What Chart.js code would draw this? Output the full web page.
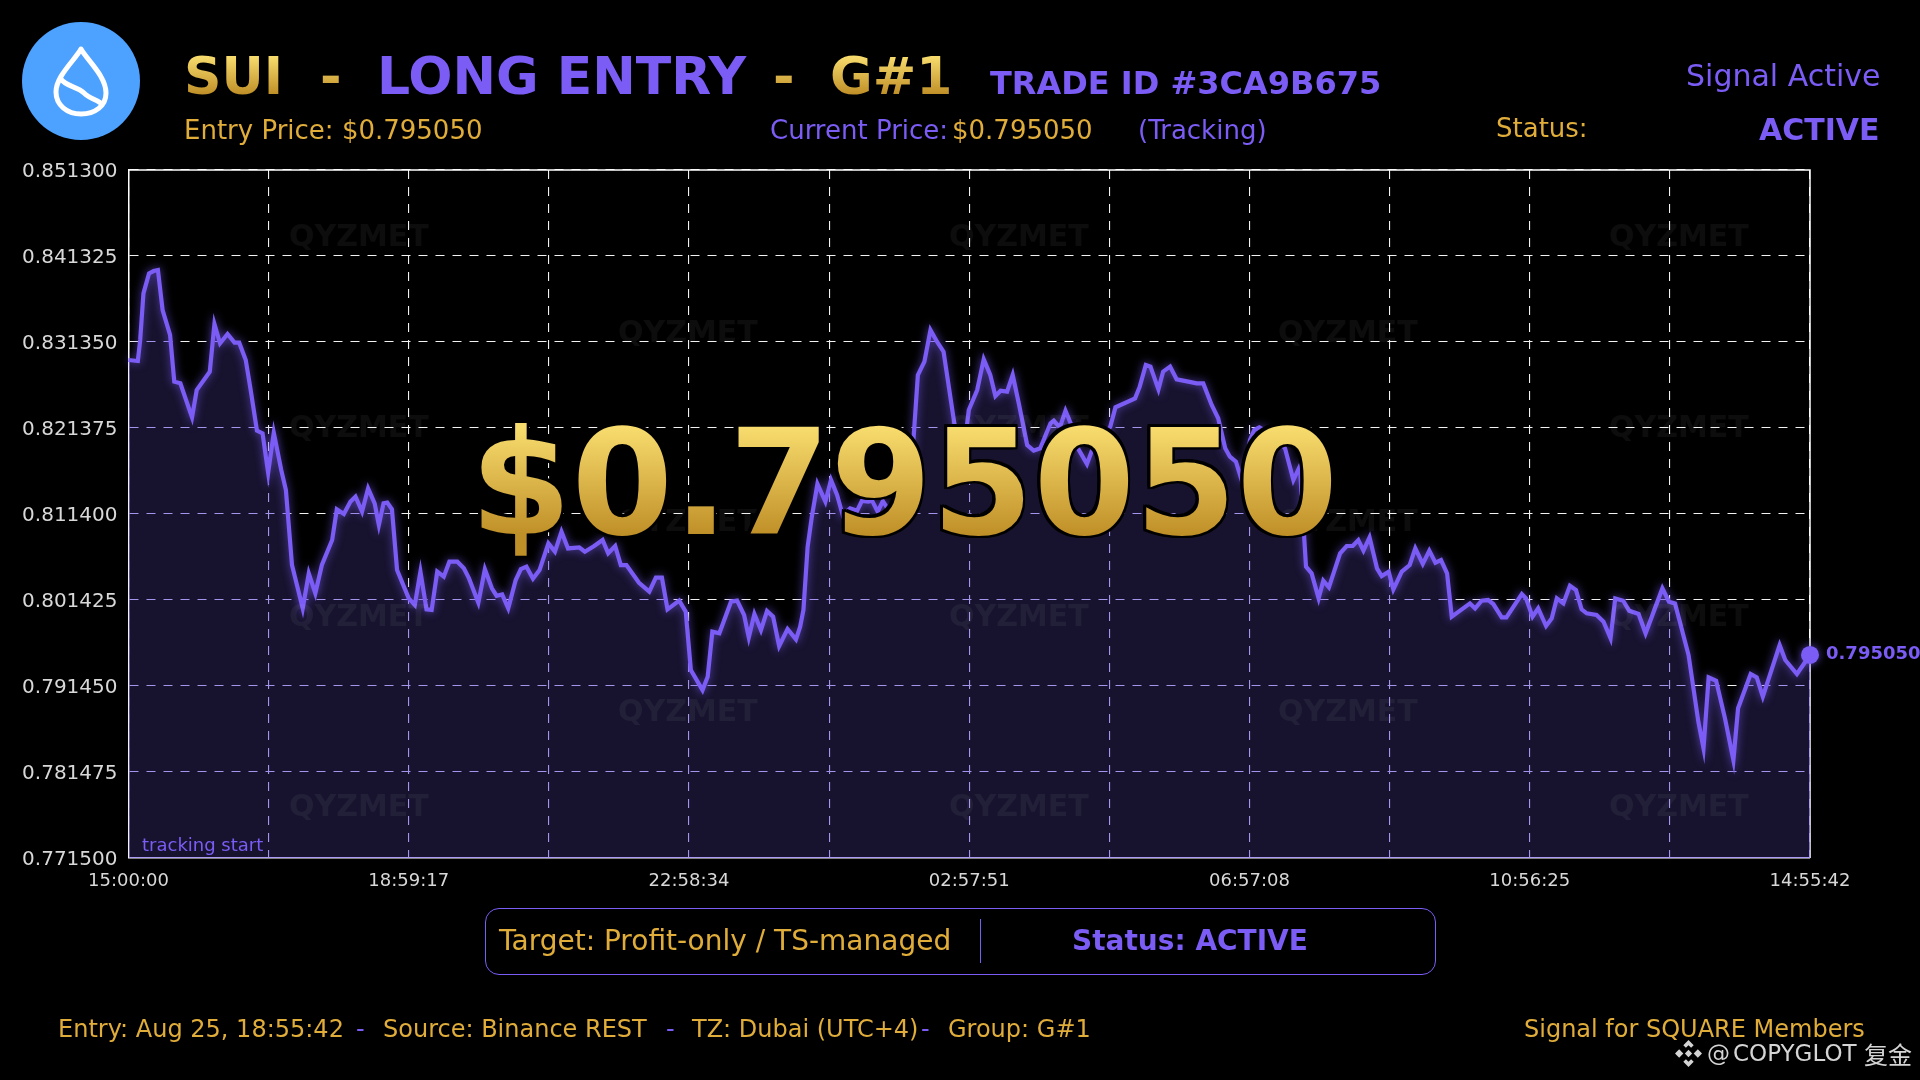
<!DOCTYPE html>
<html><head><meta charset="utf-8"><title>SUI Long Entry</title>
<script src="https://cdn.jsdelivr.net/npm/chart.js@4"></script>
<style>
html,body{margin:0;padding:0;background:#000;width:1920px;height:1080px;overflow:hidden}
#wrap{position:absolute;left:0;top:0;width:1920px;height:1080px}
canvas{position:absolute;left:0;top:0}
.t{position:absolute;white-space:pre;font-family:"DejaVu Sans",sans-serif;line-height:normal}
.b{font-weight:700}
.gold-grad{background:linear-gradient(180deg,#f8dc6e 17%,#c09028 80%);-webkit-background-clip:text;background-clip:text;color:transparent}
#box{position:absolute;left:485px;top:908px;width:949px;height:65px;border:1.5px solid #7b5cf5;border-radius:14px}
#sep{position:absolute;left:980px;top:919px;width:1px;height:44px;background:#7b5cf5}
</style></head><body><div id="wrap"><canvas id="c" width="1920" height="1080"></canvas></div>
<script>
const sampleIndex = [0,2,2.5,3.2,4.4,5.4,6.3,7.3,8.9,9.8,11.1,13.6,14.6,17.4,18.4,19.6,21.2,22.7,23.7,25.1,26.1,27.5,28.7,29.9,31.1,32.7,33.7,35,37.3,38.6,40,41.4,43.6,44.6,46.1,47.5,48.6,50,51.3,52.7,53.6,54.6,55.4,56.4,57.5,60,61.3,62.5,63.8,64.9,66.1,67.5,68.7,70.4,71.8,72.9,74.9,76.3,77.8,78.8,80,81.3,82.9,84,85.2,86.6,88,89.9,91.3,92.7,94.1,96.5,97.7,99.7,101.5,102.7,104.2,105.4,106.6,109.3,111.5,112.9,114.2,115.4,117.9,119.3,120.4,122.9,124,125,126.5,129,130.3,131.8,132.8,134,135.4,136.7,138,139.3,141.1,142.9,143.8,144.5,145.4,146.3,147.5,149.2,150.4,151.7,152.9,154.5,156,157,158.4,159.2,160.4,161.5,162.5,165.2,167,168.1,169,170.4,171.7,173.1,174.5,176.8,178.1,179.2,179.9,181.7,183.1,184.5,185.6,186.7,188.1,189.3,190.6,192.4,193.8,195.2,197.4,198.1,199.4,200.6,201.7,203.4,205.2,206.3,208.1,210.2,211.3,215.5,216.5,217.8,218.8,220.5,221.5,223,224.4,226.9,228.7,230.1,231.9,233.3,234.8,235.8,237.1,238.2,239,240.1,241,242.1,245.1,247.6,249.4,250.8,251.2,251.7,252.1,253.3,254.8,255.8,257,259.4,260.8,262.1,263.3,264.4,265.7,267.3,268.3,269.8,270.8,272.6,274.3,275.5,277.1,278.5,279.8,281,282.3,283.3,287.2,288.3,289.7,291.1,292.2,294,295,298.3,299.2,300.6,301.8,303.5,304.7,305.8,307.2,308.6,309.9,311.1,312.2,314.3,315.8,317.3,318.3,320,321.3,323.3,324.8,328.4,329.8,331.1,334,336.1,337.2,338.3,339.9,341.8,343.6,344.6,347.3,348.6,349.9,353.5,354.7,357.2,360];
const priceValues = [.82926,.82915,.83158,.83699,.83931,.83958,.83970,.83506,.83216,.82675,.82656,.82261,.82578,.82791,.83344,.83120,.83228,.83127,.83127,.82926,.82598,.82107,.82076,.81619,.82083,.81650,.81418,.80549,.80046,.80452,.80220,.80549,.80838,.81194,.81140,.81283,.81341,.81167,.81438,.81264,.81013,.81264,.81272,.81194,.80491,.80162,.80085,.80471,.80034,.80027,.80471,.80413,.80587,.80587,.80510,.80393,.80111,.80498,.80278,.80192,.80208,.80046,.80374,.80502,.80529,.80390,.80490,.80799,.80703,.80935,.80741,.80753,.80703,.80768,.80838,.80684,.80768,.80548,.80548,.80343,.80239,.80401,.80401,.80034,.80135,.80007,.79330,.79098,.79253,.79775,.79756,.80123,.80135,.79968,.79709,.79980,.79794,.80015,.79949,.79609,.79806,.79686,.79833,.80027,.80761,.81109,.81488,.81283,.81534,.81360,.81128,.81206,.81179,.81291,.81283,.81295,.81167,.81291,.81206,.81244,.81341,.82037,.82752,.82907,.83274,.83139,.83023,.82192,.81959,.82037,.82346,.82578,.82934,.82752,.82509,.82570,.82559,.82752,.82424,.81940,.81875,.81902,.82192,.82222,.82145,.82338,.82192,.81890,.81720,.81882,.81998,.82153,.82377,.82481,.82617,.82868,.82849,.82586,.82791,.82849,.82702,.82675,.82655,.82655,.82404,.82250,.81902,.81805,.81747,.81554,.81650,.81998,.82114,.82145,.82056,.81902,.81534,.81697,.81302,.80877,.80529,.80452,.80162,.80367,.80289,.80684,.80769,.80769,.80838,.80715,.80869,.80510,.80421,.80471,.80266,.80471,.80548,.80742,.80560,.80715,.80576,.80606,.80452,.79949,.80103,.80045,.80134,.80142,.80096,.79941,.79941,.80212,.80161,.79949,.80045,.79841,.79929,.80161,.80103,.80308,.80258,.80034,.79988,.79968,.79891,.79698,.80161,.80134,.80018,.79980,.79756,.80277,.80123,.80103,.79504,.78731,.78422,.79245,.79206,.78770,.78286,.78886,.79284,.79245,.79021,.79620,.79446,.79284,.79505];
const yTicks = [.7715,.781475,.79145,.801425,.8114,.821375,.83135,.841325,.8513];
const xTicks = [0,30,60,90,120,150,180,210,240,270,300,330,360];
const xTickLabels = ['15:00:00','','18:59:17','','22:58:34','','02:57:51','','06:57:08','','10:56:25','','14:55:42'];
const points = sampleIndex.map((x,i)=>({x,y:priceValues[i]}));
const PURPLE='#7b5cf5', GOLD='#e0ad3a';

const layers={id:'layers',
  beforeDraw(c){const x=c.ctx;x.save();x.fillStyle='#000';x.fillRect(0,0,c.width,c.height);x.restore();},
  beforeDatasetsDraw(c){const a=c.chartArea,x=c.ctx;x.save();x.strokeStyle='#fff';x.lineWidth=1.5;x.beginPath();
    x.moveTo(a.left,a.top);x.lineTo(a.right,a.top);x.lineTo(a.right,a.bottom);x.stroke();x.restore();
    x.globalCompositeOperation='multiply';},
  afterDatasetDraw(c,args){const x=c.ctx;
    if(args.index===2){x.globalCompositeOperation='lighter';}
    if(args.index===1){x.globalCompositeOperation='source-over';x.shadowColor='rgba(123,92,245,.7)';x.shadowBlur=8;}},
  afterDatasetsDraw(c){const x=c.ctx;x.shadowBlur=0;x.shadowColor='transparent';}
};
new Chart(document.getElementById('c'),{type:'line',
 data:{datasets:[
  {data:points,borderColor:PURPLE,backgroundColor:PURPLE,borderWidth:4.2,tension:0,fill:false,clip:false,
   pointRadius:c=>c.dataIndex===points.length-1?9:0,pointBorderWidth:0,pointBackgroundColor:PURPLE,borderJoinStyle:'miter'},
  {data:points,borderWidth:0,pointRadius:0,tension:0,fill:'start',backgroundColor:'rgb(23,19,46)'},
  {data:points,borderWidth:0,pointRadius:0,tension:0,fill:'start',backgroundColor:'rgb(150,136,200)'}
 ]},
 options:{responsive:false,animation:false,devicePixelRatio:1,
  layout:{padding:{left:0,top:170,right:110,bottom:0}},
  plugins:{legend:{display:false},tooltip:{enabled:false},title:{display:false}},
  events:[],
  scales:{
   x:{type:'linear',min:0,max:360,
     afterBuildTicks(s){s.ticks=xTicks.map(v=>({value:v}));},
     afterFit(s){s.height=222;},
     grid:{color:'#f2f2f2',lineWidth:1.1,drawTicks:false},
     border:{color:'#fff',width:1.5,dash:[9,8]},
     ticks:{color:'#d8d8d8',font:{family:'DejaVu Sans',size:18},padding:13,autoSkip:false,maxRotation:0,
       callback(v){const i=xTicks.indexOf(v);return i<0?'':xTickLabels[i];}}},
   y:{type:'linear',min:.7715,max:.8513,
     afterBuildTicks(s){s.ticks=yTicks.map(v=>({value:v}));},
     afterFit(s){s.width=128.5;},
     grid:{color:'#f2f2f2',lineWidth:1.1,drawTicks:false},
     border:{color:'#fff',width:1.5,dash:[9,8]},
     ticks:{color:'#d8d8d8',font:{family:'DejaVu Sans',size:20},padding:11,autoSkip:false,labelOffset:1.5,
       callback(v){return v.toFixed(6);}}}
  }},
 plugins:[layers]});

const wrap=document.getElementById('wrap');
function put(text,x,base,size,color,opt){opt=opt||{};const d=document.createElement('div');d.className='t'+(opt.bold?' b':'')+(opt.cls?' '+opt.cls:'');
  d.textContent=text;d.style.left=x+'px';d.style.top=(base-0.928*size)+'px';d.style.fontSize=size+'px';if(color)d.style.color=color;
  if(opt.css)d.style.cssText+=opt.css;wrap.appendChild(d);return d;}

// faint repeated watermark
const wmRowsA=[235,426,615,805], wmColsA=[358,1018,1678], wmRowsB=[331,520,710], wmColsB=[687,1347];
function wm(rows,cols){rows.forEach(y=>cols.forEach(x=>put('QYZMET',x-69,y+11,30,'rgba(255,255,255,.05)',{bold:true})));}
wm(wmRowsA,wmColsA);wm(wmRowsB,wmColsB);

// logo
wrap.insertAdjacentHTML('beforeend',`<svg style="position:absolute;left:0;top:0" width="170" height="170" viewBox="0 0 170 170">
<circle cx="81" cy="81" r="59" fill="#4da2ff"/>
<path d="M81 49C87 60 106 76 106 93C106 106 95 114 81 114C67 114 56 105 56 92C56 76 75 60 81 49Z" fill="none" stroke="#fff" stroke-width="5" stroke-linejoin="round"/>
<path d="M60 78C66 87 77 86 84 93C90 99 98 100 103 105" fill="none" stroke="#fff" stroke-width="5"/>
</svg>`);

// header
put('SUI',184,94,52,null,{bold:true,cls:'gold-grad'});
put('-',320,94,52,null,{bold:true,cls:'gold-grad'});
put('LONG ENTRY',377,94,52,PURPLE,{bold:true});
put('-',773,94,52,null,{bold:true,cls:'gold-grad'});
put('G#1',830,94,52,null,{bold:true,cls:'gold-grad'});
put('TRADE ID #3CA9B675',990,94,32,PURPLE,{bold:true});
put('Signal Active',1686,86,30,PURPLE);
put('Entry Price: $0.795050',184,139,26,GOLD);
put('Current Price:',770,139,26,PURPLE);
put('$0.795050',952,139,26,GOLD);
put('(Tracking)',1138,139,26,PURPLE);
put('Status:',1496,137,26,GOLD);
put('ACTIVE',1759,139.5,30,PURPLE,{bold:true});

put('tracking start',142,851,18,PURPLE);
put('0.795050',1826,659,18,PURPLE,{bold:true});

// price overlay
put('$0.795050',470,533,146,null,{bold:true,cls:'gold-grad',css:'filter:drop-shadow(2.5px 0 0 #000) drop-shadow(-2.5px 0 0 #000) drop-shadow(0 2.5px 0 #000) drop-shadow(0 -2.5px 0 #000);'});

// status box
wrap.insertAdjacentHTML('beforeend','<div id="box"></div><div id="sep"></div>');
put('Target: Profit-only / TS-managed',499,950,28,GOLD);
put('Status: ACTIVE',1072,950,28,PURPLE,{bold:true});

// footer
put('Entry: Aug 25, 18:55:42',58,1037,24,GOLD);
put('-',356,1037,24,PURPLE);
put('Source: Binance REST',383,1037,24,GOLD);
put('-',666,1037,24,PURPLE);
put('TZ: Dubai (UTC+4)',692,1037,24,GOLD);
put('-',921,1037,24,PURPLE);
put('Group: G#1',948,1037,24,GOLD);
put('Signal for SQUARE Members',1524,1037,24,GOLD);

// credit
wrap.insertAdjacentHTML('beforeend',`<svg style="position:absolute;left:1675px;top:1040px" width="27" height="27" viewBox="0 0 26 26" fill="#d4d4d4">
<path d="M13 0L18 5L15.5 7.5L13 5L10.5 7.5L8 5Z"/><path d="M13 26L18 21L15.5 18.5L13 21L10.5 18.5L8 21Z"/>
<path d="M0 13L4 9L8 13L4 17Z"/><path d="M26 13L22 9L18 13L22 17Z"/><path d="M13 9.5L16.5 13L13 16.5L9.5 13Z"/></svg>`);
put('@',1707,1061,23,'#d4d4d4');
put('COPYGLOT',1733,1061,23,'#d4d4d4');
put('复金',1864,1058,24,'#d4d4d4',{css:'font-family:"Noto Sans CJK SC",sans-serif;'});
</script></body></html>
